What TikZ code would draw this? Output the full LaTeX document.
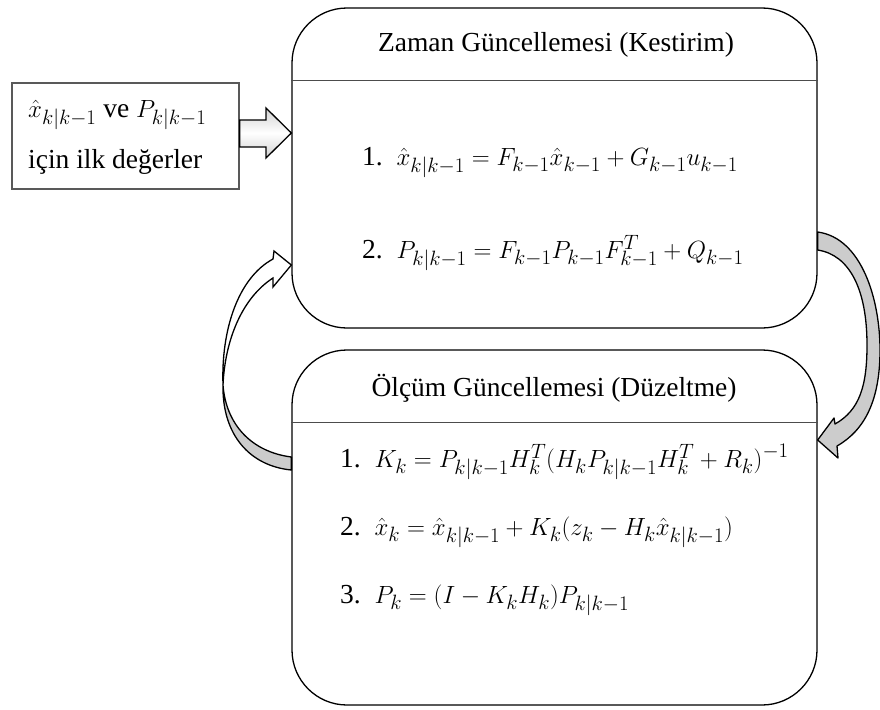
\documentclass[tikz,border=0pt]{standalone}
\usepackage{fontspec}
\setmainfont{Liberation Serif}
\usetikzlibrary{calc}
\begin{document}
\begin{tikzpicture}[x=1pt,y=-1pt,
  bigbox/.style={draw=black, line width=1.3pt, rounded corners=55pt, fill=white, inner sep=0pt},
  initbox/.style={draw=black!65, line width=1.3pt, fill=white, inner sep=0pt},
  divider/.style={draw=black!70, line width=1pt},
  title/.style={inner sep=0pt, font=\fontsize{27.5}{32}\selectfont},
  eqn/.style={inner sep=0pt, anchor=west, font=\fontsize{27.5}{32}\selectfont},
  grayarrow/.style={draw=black, line width=1.3pt, fill=black!20, line join=round},
  whitearrow/.style={draw=black, line width=1.3pt, fill=white, line join=miter}
]
\useasboundingbox (0,0) rectangle (880,709);

% boxes
\node[bigbox, minimum width=525pt, minimum height=320pt] (top) at (554.5,168) {};
\node[bigbox, minimum width=525pt, minimum height=355pt] (bot) at (554.5,527.5) {};
\node[initbox, minimum width=227pt, minimum height=106pt] (init) at (125.5,136) {};

\coordinate (d1) at (0,80);
\coordinate (d2) at (0,422);
\draw[divider] (top.west |- d1) -- (top.east |- d1);
\draw[divider] (bot.west |- d2) -- (bot.east |- d2);

% texts
\node[title] (ttop) at (556,45) {Zaman Güncellemesi (Kestirim)};
\node[eqn] (te1) at (362,163) {1.\ \ $\hat{x}_{k|k-1}=F_{k-1}\hat{x}_{k-1}+G_{k-1}u_{k-1}$};
\node[eqn] (te2) at (362,253) {2.\ \ $P_{k|k-1}=F_{k-1}P_{k-1}F_{k-1}^{T}+Q_{k-1}$};

\node[title] (tbot) at (554,388) {Ölçüm Güncellemesi (Düzeltme)};
\node[eqn] (be1) at (340,462) {1.\ \ $K_k=P_{k|k-1}H_k^{T}\bigl(H_kP_{k|k-1}H_k^{T}+R_k\bigr)^{-1}$};
\node[eqn] (be2) at (340,532) {2.\ \ $\hat{x}_k=\hat{x}_{k|k-1}+K_k(z_k-H_k\hat{x}_{k|k-1})$};
\node[eqn] (be3) at (340,600) {3.\ \ $P_k=(I-K_kH_k)P_{k|k-1}$};

\node[eqn] (i1) at (28,115) {$\hat{x}_{k|k-1}$ ve $P_{k|k-1}$};
\node[eqn] (i2) at (28,162) {için ilk değerler};

% block arrow init -> top
\draw[line width=1.3pt, draw=black, top color=black!18, bottom color=black!18, middle color=white, line join=miter]
  (init.east |- 0,120) -- (266,120) -- (266,108) -- (top.west |- 0,133) -- (266,158) -- (266,147) -- (init.east |- 0,147) -- cycle;

% right curved arrow top -> bot (gray)
\draw[grayarrow]
  (top.east |- 0,232) .. controls (862,238) and (880,300) .. (880,350)
  .. controls (880,400) and (865,430) .. (837,446)
  -- (838,458) -- (bot.east |- 0,440) -- (834,418) -- (835,424)
  .. controls (860,410) and (867,385) .. (867,345)
  .. controls (867,290) and (850,255) .. (top.east |- 0,250) -- cycle;

% left curved arrow bot -> top
\draw[grayarrow]
  (223,385) .. controls (226,425) and (252,452) .. (bot.west |- 0,457)
  -- (bot.west |- 0,470)
  .. controls (250,466) and (222,435) .. (223,385) -- cycle;
\draw[whitearrow]
  (223,385) .. controls (221,330) and (238,278) .. (273,259)
  -- (274,251) -- (top.west |- 0,265) -- (273,287) -- (273,278)
  .. controls (242,298) and (225,340) .. (223,385) -- cycle;
\end{tikzpicture}
\end{document}
